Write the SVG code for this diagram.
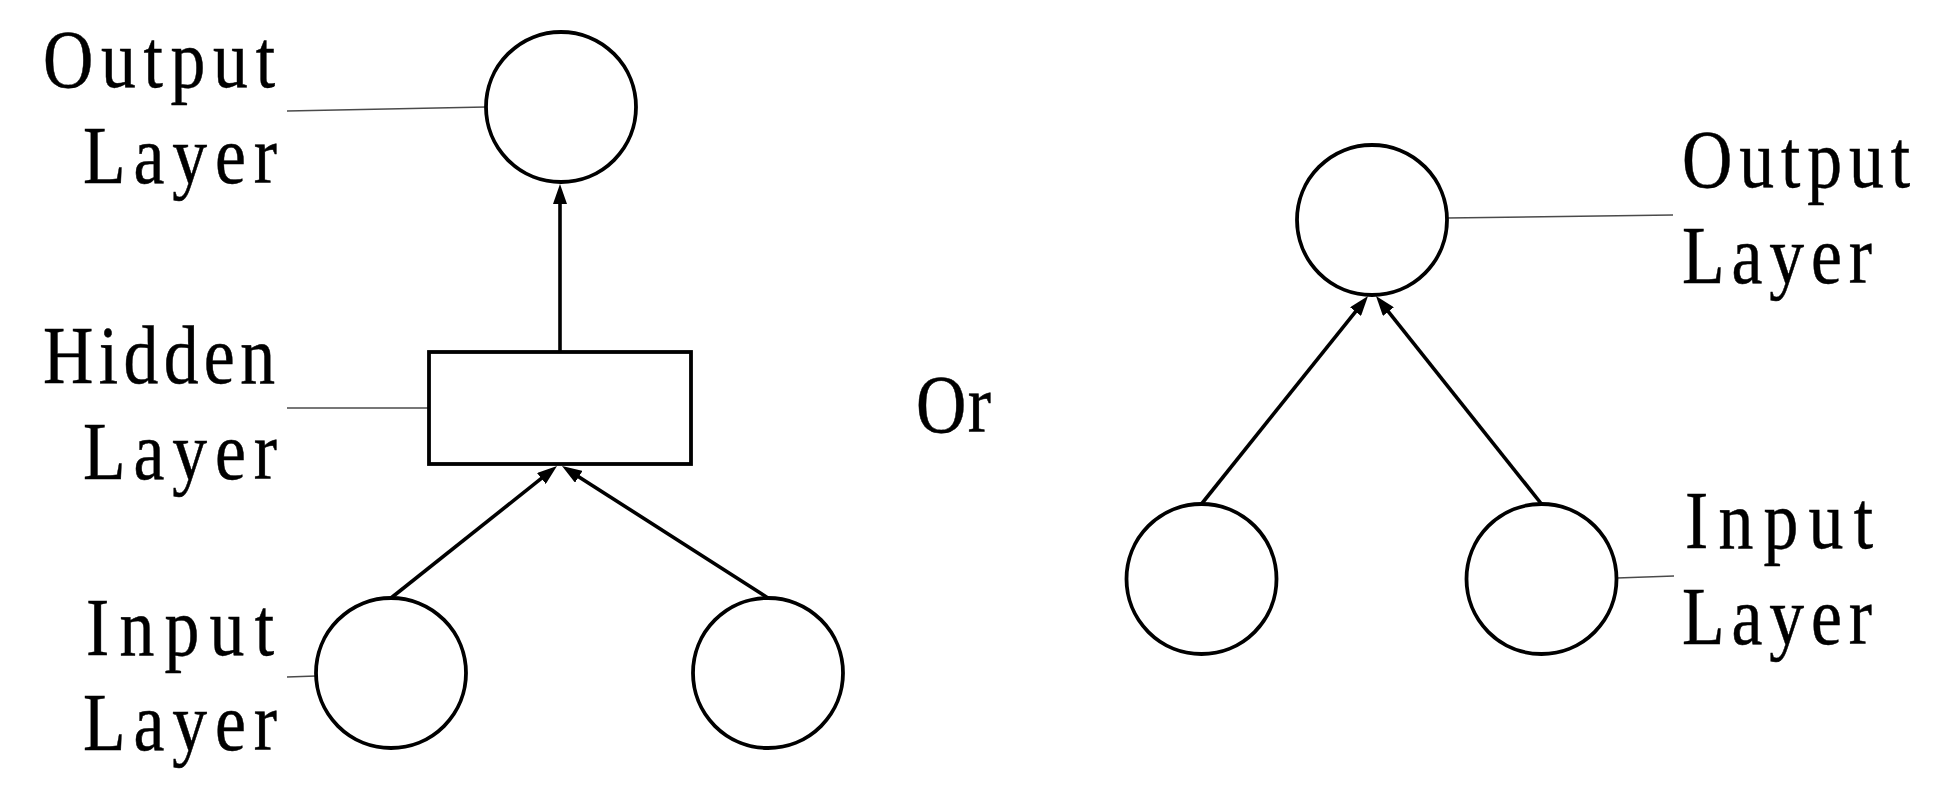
<svg xmlns="http://www.w3.org/2000/svg" width="1960" height="803" viewBox="0 0 1960 803">
  <defs>
    <style>
      .node { fill: #ffffff; stroke: #000000; stroke-width: 3.8; }
      .edge { fill: none; stroke: #000000; stroke-width: 3.6; }
      .leader { fill: none; stroke: #4a4a4a; stroke-width: 1.4; }
      .lbl { font-family: "Liberation Serif", "Times New Roman", serif; font-size: 82px; fill: #000000; stroke: #000000; stroke-width: 0.5; }
    </style>
    <marker id="arrow" viewBox="0 0 20 14" markerWidth="20" markerHeight="14" refX="10" refY="7" orient="auto" markerUnits="userSpaceOnUse">
      <path d="M0,0 L20,7 L0,14 Z" fill="#000000"/>
    </marker>
  </defs>
  <rect width="1960" height="803" fill="#ffffff"/>

  <!-- left network: two inputs feed a hidden block, which feeds one output;
       right network: two inputs feed the output directly -->
  <g id="connectors">
    <line class="edge" x1="560" y1="352" x2="560" y2="194" marker-end="url(#arrow)"/>
    <line class="edge" x1="391" y1="598" x2="549.2" y2="472.2" marker-end="url(#arrow)"/>
    <line class="edge" x1="768" y1="598" x2="570.4" y2="471.4" marker-end="url(#arrow)"/>
    <line class="edge" x1="1201.5" y1="504" x2="1361.8" y2="303.8" marker-end="url(#arrow)"/>
    <line class="edge" x1="1541.5" y1="504" x2="1382.2" y2="303.8" marker-end="url(#arrow)"/>
  </g>

  <g id="leaders">
    <line class="leader" x1="287" y1="111" x2="486" y2="107"/>
    <line class="leader" x1="287" y1="408" x2="429" y2="408"/>
    <line class="leader" x1="287" y1="677" x2="316" y2="676"/>
    <line class="leader" x1="1447" y1="218" x2="1673" y2="215"/>
    <line class="leader" x1="1617" y1="578" x2="1674" y2="576"/>
  </g>

  <g id="left-output"><circle class="node" cx="561" cy="107" r="75"/></g>
  <g id="left-hidden"><rect class="node" x="429" y="352" width="262" height="112"/></g>
  <g id="left-input-1"><circle class="node" cx="391" cy="673" r="75"/></g>
  <g id="left-input-2"><circle class="node" cx="768" cy="673" r="75"/></g>

  <g id="right-output"><circle class="node" cx="1372" cy="220" r="75"/></g>
  <g id="right-input-1"><circle class="node" cx="1201.5" cy="579" r="75"/></g>
  <g id="right-input-2"><circle class="node" cx="1541.5" cy="579" r="75"/></g>

  <!-- labels: glyphs condensed horizontally, spacing stretched to fixed widths -->
  <g id="labels" transform="scale(0.85 1)">
    <text class="lbl" x="50.59" y="87" textLength="272.94" lengthAdjust="spacing">Output</text>
    <text class="lbl" x="97.65" y="183" textLength="228.24" lengthAdjust="spacing">Layer</text>
    <text class="lbl" x="50.59" y="383" textLength="272.94" lengthAdjust="spacing">Hidden</text>
    <text class="lbl" x="97.65" y="479" textLength="228.24" lengthAdjust="spacing">Layer</text>
    <text class="lbl" x="101.18" y="655" textLength="221.18" lengthAdjust="spacing">Input</text>
    <text class="lbl" x="97.65" y="750" textLength="228.24" lengthAdjust="spacing">Layer</text>
    <text class="lbl" x="1077.65" y="432" textLength="88.24" lengthAdjust="spacing">Or</text>
    <text class="lbl" x="1978.82" y="187" textLength="268.24" lengthAdjust="spacing">Output</text>
    <text class="lbl" x="1978.82" y="283" textLength="223.53" lengthAdjust="spacing">Layer</text>
    <text class="lbl" x="1982.35" y="548" textLength="221.18" lengthAdjust="spacing">Input</text>
    <text class="lbl" x="1978.82" y="644" textLength="223.53" lengthAdjust="spacing">Layer</text>
  </g>
</svg>
